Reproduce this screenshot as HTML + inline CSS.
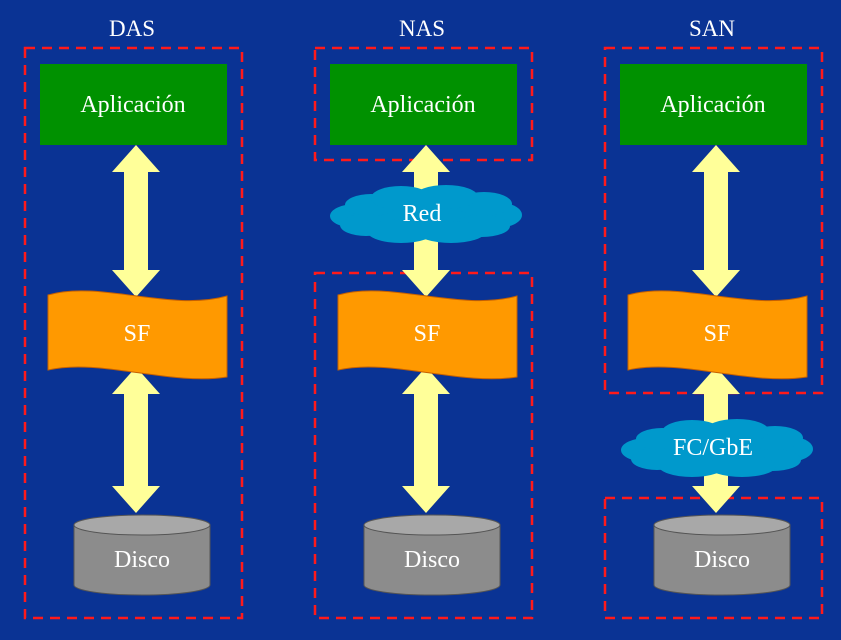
<!DOCTYPE html>
<html><head><meta charset="utf-8"><style>
html,body{margin:0;padding:0;background:#0a3394;}
svg{display:block}
text{font-family:"Liberation Serif",serif;fill:#fff;text-anchor:middle}
</style></head><body>
<svg width="841" height="640" viewBox="0 0 841 640" xmlns="http://www.w3.org/2000/svg">
<defs>
<g id="app">
<rect x="40" y="64" width="187" height="81" fill="#009100"/>
<text x="133" y="112" font-size="24">Aplicación</text>
</g>
<g id="sf">
<path d="M48,295 C100,280 170,312 227,296 L227,377 C170,386 100,358 48,370 Z" fill="#ff9900" stroke="#c66000" stroke-width="1"/>
<text x="137" y="341" font-size="24">SF</text>
</g>
<g id="disk">
<path d="M74,525 L74,585 A68,10 0 0 0 210,585 L210,525 Z" fill="#8c8c8c" stroke="#555" stroke-width="1"/>
<ellipse cx="142" cy="525" rx="68" ry="10" fill="#a8a8a8" stroke="#555" stroke-width="1"/>
<text x="142" y="567" font-size="24">Disco</text>
</g>
<g id="arr1">
<polygon points="136,145 160,172 148,172 148,270 160,270 136,297 112,270 124,270 124,172 112,172" fill="#ffff99"/>
</g>
<g id="arr2">
<polygon points="136,367 160,394 148,394 148,486 160,486 136,513 112,486 124,486 124,394 112,394" fill="#ffff99"/>
</g>
<g id="cloud">
<g fill="#0099cc">
<ellipse cx="0" cy="0" rx="72" ry="22"/>
<ellipse cx="-70" cy="2" rx="26" ry="12"/>
<ellipse cx="70" cy="1" rx="26" ry="13"/>
<ellipse cx="-55" cy="-9" rx="26" ry="11"/>
<ellipse cx="-60" cy="11" rx="26" ry="11"/>
<ellipse cx="58" cy="-10" rx="28" ry="12"/>
<ellipse cx="56" cy="12" rx="28" ry="11"/>
<ellipse cx="-25" cy="-16" rx="30" ry="12"/>
<ellipse cx="20" cy="-17" rx="32" ry="12"/>
<ellipse cx="-25" cy="17" rx="34" ry="12"/>
<ellipse cx="25" cy="18" rx="34" ry="11"/>
</g>
</g>
</defs>
<g stroke="#ff1a1a" stroke-width="2.5" fill="none" stroke-dasharray="10,7">
<rect x="25" y="48" width="217" height="570"/>
<rect x="315" y="48" width="217" height="112"/>
<rect x="315" y="273" width="217" height="345"/>
<rect x="605" y="48" width="217" height="345"/>
<rect x="605" y="498" width="217" height="120"/>
</g>
<text x="132" y="36" font-size="23">DAS</text>
<text x="422" y="36" font-size="23">NAS</text>
<text x="712" y="36" font-size="23">SAN</text>

<use href="#app"/><use href="#arr1"/><use href="#arr2"/><use href="#sf"/><use href="#disk"/>
<g transform="translate(290,0)"><use href="#app"/><use href="#arr1"/><use href="#arr2"/><use href="#sf"/><use href="#disk"/></g>
<g transform="translate(580,0)"><use href="#app"/><use href="#arr1"/><use href="#arr2"/><use href="#sf"/><use href="#disk"/></g>

<g transform="translate(426,214)"><use href="#cloud"/></g>
<text x="422" y="221" font-size="24">Red</text>
<g transform="translate(717,448)"><use href="#cloud"/></g>
<text x="713" y="455" font-size="24">FC/GbE</text>
</svg>
</body></html>
